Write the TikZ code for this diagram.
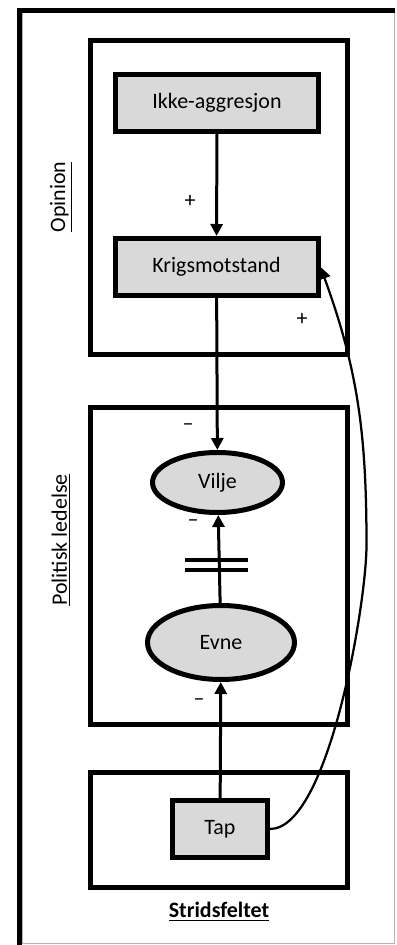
\documentclass[tikz,border=0pt]{standalone}
\usepackage{fontspec}
\setmainfont{Carlito}
\usetikzlibrary{shapes.geometric,arrows.meta}
\definecolor{boxgray}{RGB}{217,217,217}

\begin{document}
\begin{tikzpicture}[thick,
	every node/.style={font=\fontsize{12.5}{15}\selectfont},
	boks/.style={draw, line width=0.1cm, fill=boxgray, minimum width=4.06cm, minimum height=1.14cm, inner sep=0},
	oval/.style={ellipse, draw, line width=0.1cm, fill=boxgray, inner sep=0},
	gruppe/.style={line width=0.1cm},
	pil/.style={line width=0.06cm, -{Triangle[length=0.24cm,width=0.24cm]}},
	tegn/.style={inner sep=0}]
	
	\useasboundingbox (0,0) rectangle (7.94,18.9);
	
	% ramme
	\draw[gray!60, thin] (0.44,0.04) rectangle (7.88,18.66);
	\draw[line width=0.1cm] (0.39,0) -- (0.39,18.69) -- (7.9,18.69);
	
	% grupper
	\draw[gruppe] (1.81,11.81) rectangle (6.95,18.09);
	\draw[gruppe] (1.81,4.41) rectangle (6.95,10.75);
	\draw[gruppe] (1.81,1.15) rectangle (6.95,3.45);
	
	\node[rotate=90] (opinion) at (1.22,14.96) {\underline{Opinion}};
	\node[rotate=90] (politisk) at (1.22,8.1) {\underline{Politisk ledelse}};
	\node (strid) at (4.38,0.66) {\textbf{\underline{Stridsfeltet}}};
	
	% noder
	\node[boks] (ikke) at (4.34,16.84) {Ikke-aggresjon};
	\node[boks] (krig) at (4.33,13.56) {Krigsmotstand};
	\node[oval, minimum width=2.6cm, minimum height=1.2cm] (vilje) at (4.35,9.25) {Vilje};
	\node[oval, minimum width=2.94cm, minimum height=1.48cm] (evne) at (4.42,6.05) {Evne};
	\node[boks, minimum width=1.9cm] (tap) at (4.4,2.32) {Tap};
	
	% piler
	\draw[pil] (ikke) -- (krig);
	\draw[pil] (krig) -- (vilje);
	\draw[pil] (evne) -- (vilje);
	\draw[pil] (tap) -- (evne);
	\coordinate (bue) at (7.33,8.0);
	\draw[pil, line width=0.045cm] (tap.east) to[out=0,in=-90,looseness=0.5] (bue) to[out=90,in=-70] (krig.east);
	
	% brudd
	\coordinate (brudd) at (4.33,7.6);
	\draw[line width=0.08cm] ([shift={(-0.63,0.1)}]brudd) -- ++(1.26,0);
	\draw[line width=0.08cm] ([shift={(-0.63,-0.1)}]brudd) -- ++(1.26,0);
	
	% fortegn
	\node[tegn] (p1) at (3.8,14.88) {+};
	\node[tegn] (p2) at (6.04,12.52) {+};
	\node[tegn] (m1) at (3.76,10.36) {--};
	\node[tegn] (m2) at (3.86,8.44) {--};
	\node[tegn] (m3) at (3.98,4.86) {--};
	
\end{tikzpicture}
\end{document}
